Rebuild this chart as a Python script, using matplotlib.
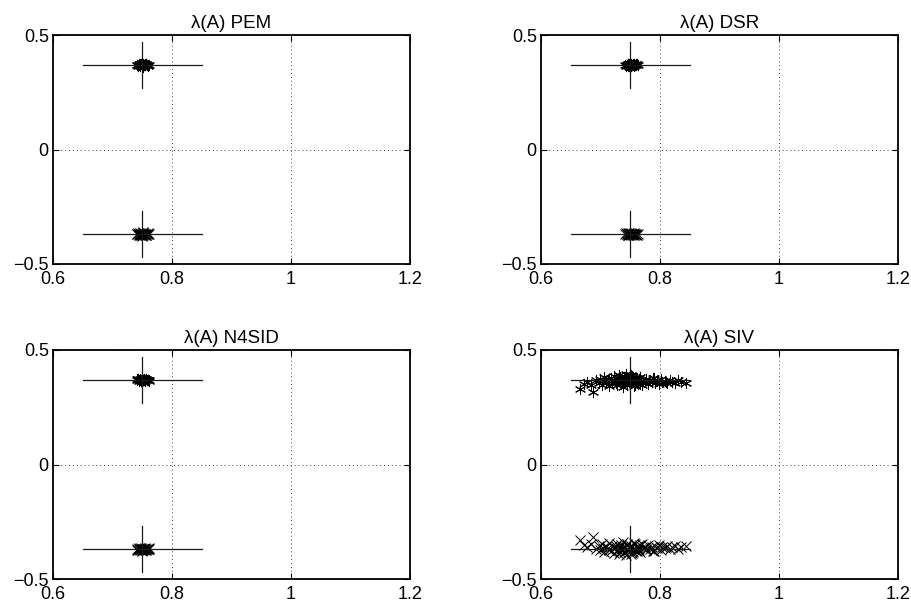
import numpy as np
import matplotlib
matplotlib.use("Agg")
import matplotlib.pyplot as plt

plt.rcParams['font.family'] = ['Liberation Sans', 'DejaVu Sans']
plt.rcParams['axes.unicode_minus'] = True

# true eigenvalue (crosshair centre)
true_re = 0.75
true_im = 0.37

titles = ["\u03bb(A) PEM", "\u03bb(A) DSR", "\u03bb(A) N4SID", "\u03bb(A) SIV"]

# estimated eigenvalues (upper half plane); lower half is the conjugate
pem_re = [0.741, 0.744, 0.746, 0.748, 0.749, 0.750, 0.751, 0.752, 0.753, 0.755,
          0.757, 0.759, 0.762, 0.743, 0.747, 0.750, 0.754, 0.756, 0.745, 0.752,
          0.749, 0.758, 0.751, 0.746, 0.753, 0.760, 0.742, 0.755]
pem_im = [0.369, 0.372, 0.366, 0.375, 0.368, 0.371, 0.364, 0.373, 0.369, 0.367,
          0.372, 0.370, 0.368, 0.365, 0.370, 0.376, 0.367, 0.373, 0.371, 0.366,
          0.374, 0.369, 0.362, 0.372, 0.370, 0.366, 0.371, 0.375]

dsr_re = [0.742, 0.745, 0.747, 0.748, 0.750, 0.751, 0.752, 0.753, 0.754, 0.756,
          0.758, 0.760, 0.763, 0.744, 0.746, 0.749, 0.752, 0.755, 0.757, 0.750,
          0.748, 0.759, 0.753, 0.747, 0.751, 0.761, 0.743, 0.756]
dsr_im = [0.370, 0.367, 0.373, 0.365, 0.371, 0.368, 0.374, 0.369, 0.372, 0.366,
          0.370, 0.373, 0.369, 0.368, 0.375, 0.371, 0.364, 0.370, 0.374, 0.367,
          0.372, 0.368, 0.371, 0.363, 0.369, 0.372, 0.366, 0.370]

n4sid_re = [0.741, 0.744, 0.746, 0.748, 0.749, 0.751, 0.752, 0.753, 0.755, 0.756,
            0.758, 0.760, 0.762, 0.743, 0.747, 0.750, 0.753, 0.754, 0.757, 0.745,
            0.750, 0.759, 0.752, 0.748, 0.755, 0.761, 0.742, 0.751]
n4sid_im = [0.371, 0.366, 0.374, 0.369, 0.372, 0.367, 0.370, 0.375, 0.368, 0.372,
            0.369, 0.371, 0.366, 0.373, 0.368, 0.376, 0.370, 0.365, 0.372, 0.369,
            0.373, 0.367, 0.371, 0.364, 0.370, 0.368, 0.372, 0.369]

siv_re = [0.665, 0.672, 0.678, 0.684, 0.688, 0.692, 0.697, 0.700, 0.703, 0.706,
          0.709, 0.712, 0.715, 0.718, 0.720, 0.722, 0.725, 0.727, 0.729, 0.731,
          0.733, 0.735, 0.737, 0.739, 0.741, 0.743, 0.745, 0.747, 0.749, 0.751,
          0.753, 0.755, 0.757, 0.759, 0.761, 0.763, 0.765, 0.767, 0.769, 0.771,
          0.774, 0.777, 0.780, 0.783, 0.786, 0.789, 0.792, 0.795, 0.798, 0.801,
          0.804, 0.808, 0.812, 0.816, 0.820, 0.825, 0.830, 0.836, 0.843,
          0.735, 0.742, 0.748, 0.752, 0.758, 0.745, 0.738, 0.762,
          0.705, 0.714, 0.726, 0.732, 0.744, 0.754, 0.766, 0.776, 0.790, 0.810]
siv_im = [0.330, 0.352, 0.362, 0.345, 0.318, 0.368, 0.356, 0.373, 0.349, 0.381,
          0.360, 0.366, 0.342, 0.377, 0.355, 0.388, 0.364, 0.347, 0.372, 0.391,
          0.359, 0.369, 0.338, 0.383, 0.362, 0.396, 0.351, 0.374, 0.366, 0.357,
          0.386, 0.370, 0.343, 0.378, 0.362, 0.355, 0.372, 0.381, 0.349, 0.366,
          0.360, 0.374, 0.352, 0.369, 0.361, 0.378, 0.355, 0.364, 0.350, 0.372,
          0.360, 0.366, 0.356, 0.371, 0.362, 0.358, 0.368, 0.361, 0.356,
          0.352, 0.380, 0.362, 0.392, 0.348, 0.371, 0.365, 0.377,
          0.363, 0.375, 0.358, 0.380, 0.346, 0.384, 0.353, 0.368, 0.376, 0.359]

estimates = [(pem_re, pem_im), (dsr_re, dsr_im), (n4sid_re, n4sid_im), (siv_re, siv_im)]

xticks = [0.6, 0.8, 1.0, 1.2]
xticklabels = ["0.6", "0.8", "1", "1.2"]
yticks = [-0.5, 0.0, 0.5]
yticklabels = ["\u22120.5", "0", "0.5"]

fig = plt.figure(figsize=(9.12, 6.02), dpi=100)
W, H = 912, 602
boxes = [(53, 35), (541, 35), (53, 350), (541, 350)]  # left, top in px
aw, ah = 357, 229

asterisk = (6, 2, 0)

for k, (px, py) in enumerate(boxes):
    ax = fig.add_axes([px / W, 1 - (py + ah) / H, aw / W, ah / H])
    re, im = estimates[k]
    re = np.array(re)
    im = np.array(im)
    ax.plot(re, im, linestyle='none', marker=asterisk, markersize=8,
            markeredgewidth=0.7, color='k')
    ax.plot(re, -im, linestyle='none', marker='x', markersize=7,
            markeredgewidth=0.7, color='k')
    # crosshairs at the true eigenvalues
    for s in (1, -1):
        ax.plot([true_re - 0.1, true_re + 0.1], [s * true_im, s * true_im],
                color='0.1', lw=0.9)
        ax.plot([true_re, true_re], [s * true_im - 0.1, s * true_im + 0.1],
                color='0.1', lw=0.9)
    ax.set_xlim(0.6, 1.2)
    ax.set_ylim(-0.5, 0.5)
    ax.set_xticks(xticks)
    ax.set_xticklabels(xticklabels)
    ax.set_yticks(yticks)
    ax.set_yticklabels(yticklabels)
    ax.grid(True, color='0.25', linestyle=(0, (1, 3)), linewidth=0.7)
    ax.tick_params(direction='in', length=4, width=0.8, labelsize=13,
                   top=True, right=True)
    ax.tick_params(axis='x', pad=5)
    ax.tick_params(axis='y', pad=3)
    for sp in ax.spines.values():
        sp.set_linewidth(1.3)
    ax.set_title(titles[k], fontsize=13.5, pad=5)

fig.savefig("out.png", dpi=100)
